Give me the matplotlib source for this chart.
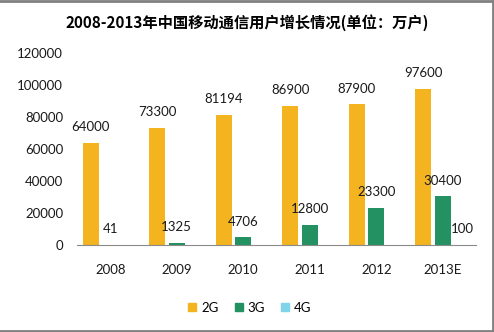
import matplotlib.pyplot as plt
import numpy as np
from matplotlib.lines import Line2D

plt.rcParams['font.family'] = ['Lato', 'Noto Sans CJK SC', 'DejaVu Sans']

years = ['2008', '2009', '2010', '2011', '2012', '2013E']
users_2g = [64000, 73300, 81194, 86900, 87900, 97600]
users_3g = [41, 1325, 4706, 12800, 23300, 30400]
users_4g = [0, 0, 0, 0, 0, 100]

c2g = '#F3B420'
c3g = '#239162'
c4g = '#7FD4EA'

fig = plt.figure(figsize=(4.94, 3.32), dpi=100)
ax = fig.add_axes([77/494, 87/332, 399/494, 192/332])

x = np.arange(len(years))
w = 0.235
off = 0.293
b2 = ax.bar(x - off, users_2g, w, color=c2g)
b3 = ax.bar(x, users_3g, w, color=c3g)
b4 = ax.bar(x + off, users_4g, w, color=c4g)

for bars, vals in [(b2, users_2g), (b3, users_3g), (b4, users_4g)]:
    labels = [str(v) if v else '' for v in vals]
    ax.bar_label(bars, labels=labels, padding=7, fontsize=9.5, color='#1a1a1a')

ax.set_xlim(-0.5, len(years) - 0.5)
ax.set_ylim(0, 120000)
ax.set_yticks(range(0, 120001, 20000))
ax.set_xticks(x)
ax.set_xticklabels(years)
ax.tick_params(axis='both', length=0, labelsize=9.5, colors='#1a1a1a')
ax.tick_params(axis='x', pad=14)
ax.tick_params(axis='y', pad=10)
for s in ['top', 'right', 'left']:
    ax.spines[s].set_visible(False)
ax.spines['bottom'].set_color('#8a8a8a')

fig.text(0.5, 1 - 23/332, '2008-2013年中国移动通信用户增长情况(单位：万户)',
         ha='center', va='center', fontsize=11, fontweight='bold',
         family=['Noto Sans CJK SC', 'DejaVu Sans'])

handles = [Line2D([], [], marker='s', ls='none', color=c, markersize=5.5)
           for c in [c2g, c3g, c4g]]
fig.legend(handles, ['2G', '3G', '4G'], loc='center', bbox_to_anchor=(250/494, 1 - 308/332),
           ncol=3, frameon=False, fontsize=9.5, handlelength=0.6, handletextpad=0.4,
           columnspacing=1.2)

# gray frame on top, right and bottom
for xs, ys in [([0, 1], [0.997, 0.997]), ([0.997, 0.997], [0, 1]), ([0, 1], [0.003, 0.003])]:
    fig.add_artist(Line2D(xs, ys, color='#808080', lw=2, transform=fig.transFigure))

fig.savefig('out.png', dpi=100)
